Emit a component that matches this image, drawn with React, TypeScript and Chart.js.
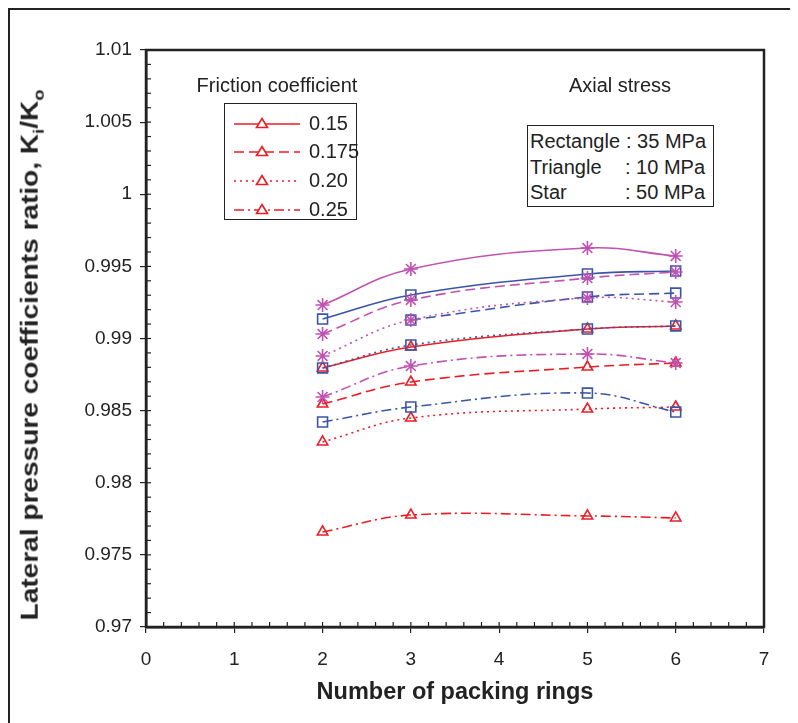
import React, { useEffect, useRef } from "react";
import { Chart, registerables } from "chart.js";

Chart.register(...registerables);

// ---- Data ----
const rings = [2, 3, 5, 6];
const xTicks = [0, 1, 2, 3, 4, 5, 6, 7];
const yTicks = [0.97, 0.975, 0.98, 0.985, 0.99, 0.995, 1, 1.005, 1.01];
const frictionLabels = ["0.15", "0.175", "0.20", "0.25"];
const stressLabels = ["Rectangle", "Triangle", "Star"];
const stressValues = [": 35 MPa", ": 10 MPa", ": 50 MPa"];

// Star: 50 MPa
const star015 = [0.99232, 0.99482, 0.99627, 0.99572];
const star0175 = [0.99031, 0.99267, 0.99419, 0.99461];
const star020 = [0.98879, 0.99128, 0.99281, 0.99253];
const star025 = [0.98594, 0.98809, 0.98893, 0.9883];
// Rectangle: 35 MPa
const rect015 = [0.99135, 0.99302, 0.99447, 0.99468];
const rect0175: (number | null)[] = [null, 0.99128, 0.99288, 0.99315];
const rect020 = [0.98796, 0.98955, 0.99066, 0.99087];
const rect025 = [0.98421, 0.98525, 0.98622, 0.9849];
// Triangle: 10 MPa
const tri015 = [0.98796, 0.98941, 0.99066, 0.99087];
const tri0175 = [0.98546, 0.98698, 0.98802, 0.9883];
const tri020 = [0.98283, 0.98449, 0.98511, 0.98525];
const tri025 = [0.97659, 0.97776, 0.9777, 0.97756];

const RED = "#ec1c24";
const BLUE = "#3b55a6";
const MAG = "#c052b2";

const DASHES: number[][] = [[], [10, 5], [2, 4], [10, 4, 2, 4]];

function pts(vals: (number | null)[]) {
  return rings.map((x, i) => ({ x, y: vals[i] }));
}

function ds(vals: (number | null)[], color: string, style: string, dashIdx: number, radius: number) {
  return {
    data: pts(vals),
    borderColor: color,
    backgroundColor: "#ffffff",
    borderWidth: 1.6,
    borderDash: DASHES[dashIdx],
    pointStyle: style,
    pointRadius: radius,
    pointBorderColor: color,
    pointBackgroundColor: "rgba(255,255,255,0)",
    pointBorderWidth: 1.6,
    tension: 0.4,
    fill: false,
    spanGaps: false,
  };
}

const framePlugin = {
  id: "framePlugin",
  afterDraw(chart: any) {
    const { ctx, chartArea } = chart;
    const xs = chart.scales.x;
    const ys = chart.scales.y;
    ctx.save();
    ctx.strokeStyle = "#222";
    ctx.lineWidth = 1.2;
    ctx.setLineDash([]);
    for (let v = 0.2; v < 7; v += 0.2) {
      const px = xs.getPixelForValue(v);
      ctx.beginPath();
      ctx.moveTo(px, chartArea.bottom);
      ctx.lineTo(px, chartArea.bottom - 5);
      ctx.stroke();
    }
    for (let k = 1; k < 40; k++) {
      const v = 0.97 + k * 0.001;
      const py = ys.getPixelForValue(v);
      ctx.beginPath();
      ctx.moveTo(chartArea.left, py);
      ctx.lineTo(chartArea.left + 5, py);
      ctx.stroke();
    }
    ctx.lineWidth = 2.5;
    ctx.strokeRect(chartArea.left, chartArea.top, chartArea.right - chartArea.left, chartArea.bottom - chartArea.top);
    ctx.restore();
  },
};

const W = 790;
const H = 715;
const AREA = { left: 138, right: 756, top: 42, bottom: 619 };

function LegendSample({ dash }: { dash: number[] }) {
  return (
    <svg width="70" height="14" style={{ display: "block" }}>
      <line x1="1" y1="8" x2="67" y2="8" stroke={RED} strokeWidth="1.6" strokeDasharray={dash.length ? dash.join(",") : undefined} />
      <polygon points="29,2.5 34.5,11.5 23.5,11.5" fill="white" stroke={RED} strokeWidth="1.6" />
    </svg>
  );
}

export default function App() {
  const ref = useRef<HTMLCanvasElement | null>(null);
  useEffect(() => {
    if (!ref.current) return;
    const chart = new Chart(ref.current, {
      type: "line",
      data: {
        datasets: [
          ds(star015, MAG, "star", 0, 7),
          ds(star0175, MAG, "star", 1, 7),
          ds(star020, MAG, "star", 2, 7),
          ds(star025, MAG, "star", 3, 7),
          ds(rect015, BLUE, "rect", 0, 7),
          ds(rect0175, BLUE, "rect", 1, 7),
          ds(rect020, BLUE, "rect", 2, 7),
          ds(rect025, BLUE, "rect", 3, 7),
          ds(tri015, RED, "triangle", 0, 6),
          ds(tri0175, RED, "triangle", 1, 6),
          ds(tri020, RED, "triangle", 2, 6),
          ds(tri025, RED, "triangle", 3, 6),
        ] as any,
      },
      options: {
        animation: false,
        responsive: false,
        maintainAspectRatio: false,
        layout: { padding: { left: 0, right: W - AREA.right, top: AREA.top, bottom: 0 } },
        plugins: { legend: { display: false }, tooltip: { enabled: false } },
        scales: {
          x: {
            type: "linear",
            min: 0,
            max: 7,
            afterFit: (s: any) => {
              s.height = H - AREA.bottom;
            },
            afterBuildTicks: (s: any) => {
              s.ticks = xTicks.map((v) => ({ value: v }));
            },
            ticks: {
              color: "#222",
              font: { family: "Liberation Sans, Arial", size: 19 },
              padding: 15,
              callback: (v: any) => String(v),
            },
            grid: { drawOnChartArea: false, drawTicks: true, tickLength: 6, color: "#222", lineWidth: 1.2 },
            border: { color: "#222", width: 2.5 },
          },
          y: {
            type: "linear",
            min: 0.97,
            max: 1.01,
            afterFit: (s: any) => {
              s.width = AREA.left;
            },
            afterBuildTicks: (s: any) => {
              s.ticks = yTicks.map((v) => ({ value: v }));
            },
            ticks: {
              color: "#222",
              font: { family: "Liberation Sans, Arial", size: 19 },
              padding: 8,
              callback: (v: any) => String(Number(Number(v).toFixed(3))),
            },
            grid: { drawOnChartArea: false, drawTicks: true, tickLength: 6, color: "#222", lineWidth: 1.2 },
            border: { color: "#222", width: 2.5 },
          },
        },
      },
      plugins: [framePlugin],
    });
    return () => chart.destroy();
  }, []);

  const font = "'Liberation Sans', Arial, sans-serif";
  const txt: React.CSSProperties = { position: "absolute", fontFamily: font, fontSize: 20, color: "#222", whiteSpace: "nowrap", lineHeight: "22px" };

  return (
    <div style={{ position: "relative", width: W, height: H, fontFamily: font }}>
      <div style={{ position: "absolute", left: 0, top: 0, width: W, height: H, borderLeft: "2px solid #222", borderTop: "2px solid #222", boxSizing: "border-box" }} />
      <canvas ref={ref} width={W} height={H} style={{ position: "absolute", left: 0, top: 0, width: W, height: H }} />
      <div
        style={{
          position: "absolute",
          left: 26,
          top: 347,
          transform: "translate(-50%, -50%) rotate(-90deg) scaleX(1.22)",
          fontFamily: font,
          fontWeight: "bold",
          fontSize: 23,
          color: "#222",
          whiteSpace: "nowrap",
          lineHeight: "26px",
        }}
      >
        Lateral pressure coefficients ratio, K<sub style={{ fontSize: 15 }}>i</sub>/K<sub style={{ fontSize: 15 }}>o</sub>
      </div>
      <div
        style={{
          position: "absolute",
          left: 447,
          top: 683,
          transform: "translate(-50%, -50%)",
          fontFamily: font,
          fontWeight: "bold",
          fontSize: 23.5,
          color: "#222",
          whiteSpace: "nowrap",
        }}
      >
        Number of packing rings
      </div>
      <div style={{ ...txt, left: 269, top: 66, transform: "translateX(-50%)" }}>Friction coefficient</div>
      <div style={{ ...txt, left: 612, top: 66, transform: "translateX(-50%)" }}>Axial stress</div>
      <div style={{ position: "absolute", left: 216, top: 95, width: 133, height: 117, border: "1.5px solid #222", boxSizing: "border-box", background: "white" }}>
        {frictionLabels.map((lab, i) => (
          <div key={lab} style={{ position: "absolute", left: 8, top: 8.5 + i * 28.7, display: "flex", alignItems: "center" }}>
            <LegendSample dash={DASHES[i]} />
            <span style={{ fontFamily: font, fontSize: 20, color: "#222", marginLeft: 6, lineHeight: "20px" }}>{lab}</span>
          </div>
        ))}
      </div>
      <div style={{ position: "absolute", left: 519, top: 117, width: 187, height: 82, border: "1.5px solid #222", boxSizing: "border-box", background: "white" }}>
        {stressLabels.map((a, i) => (
          <React.Fragment key={a}>
            <div style={{ position: "absolute", left: 2, top: 4 + i * 25.5, fontFamily: font, fontSize: 20, color: "#222", lineHeight: "22px", whiteSpace: "nowrap" }}>{a}</div>
            <div style={{ position: "absolute", left: i === 0 ? 98 : 97, top: 4 + i * 25.5, fontFamily: font, fontSize: 20, color: "#222", lineHeight: "22px", whiteSpace: "nowrap" }}>{stressValues[i]}</div>
          </React.Fragment>
        ))}
      </div>
    </div>
  );
}
